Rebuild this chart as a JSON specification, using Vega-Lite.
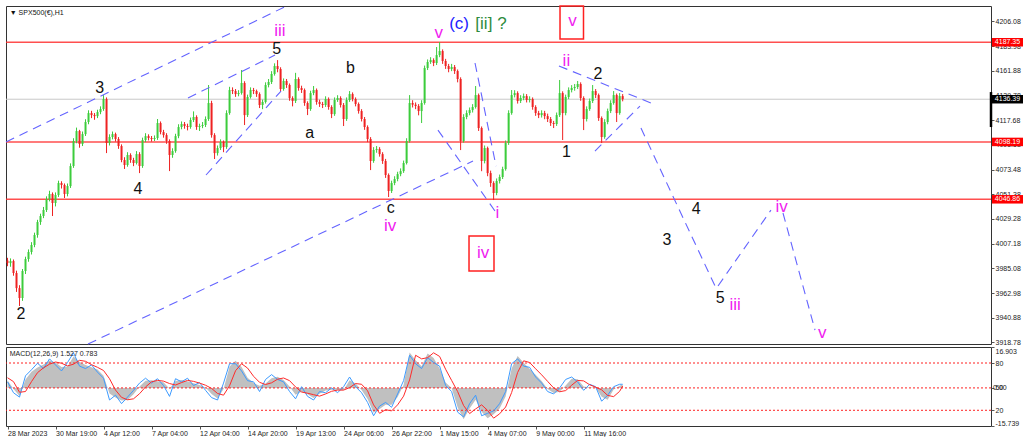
{
"$schema":"https://vega.github.io/schema/vega-lite/v6.json",
"background":"white",
"padding":{"left":3,"top":3,"right":0,"bottom":0},
"bounds":"flush",
"spacing":3,
"config":{"view":{"stroke":"#333333","strokeWidth":1},"axis":{"labelFont":"Liberation Sans","labelFontSize":7,"labelColor":"#222222","tickColor":"#555555","tickSize":3,"domain":false,"grid":false,"labelOverlap":false}},
"datasets":{
"candles":[
{"b":0,"o":3992.0,"h":3994.5,"l":3987.0,"c":3989.8},{"b":4,"o":3989.8,"h":3994.0,"l":3986.5,"c":3991.6},{"b":8,"o":3991.6,"h":3993.0,"l":3978.5,"c":3980.9},{"b":12,"o":3980.9,"h":3983.0,"l":3964.0,"c":3967.4},{"b":16,"o":3967.4,"h":3970.0,"l":3951.4,"c":3958.5},{"b":20,"o":3958.5,"h":3984.5,"l":3956.0,"c":3982.7},{"b":24,"o":3982.7,"h":3995.5,"l":3980.0,"c":3993.4},{"b":28,"o":3993.4,"h":4002.0,"l":3991.0,"c":3999.7},{"b":32,"o":3999.7,"h":4008.5,"l":3997.5,"c":4006.0},{"b":36,"o":4006.0,"h":4017.0,"l":4004.0,"c":4014.9},
{"b":40,"o":4014.9,"h":4028.5,"l":4012.5,"c":4026.5},{"b":44,"o":4026.5,"h":4034.0,"l":4024.0,"c":4031.9},{"b":48,"o":4031.9,"h":4040.0,"l":4030.0,"c":4037.3},{"b":52,"o":4037.3,"h":4049.5,"l":4035.5,"c":4047.1},{"b":56,"o":4047.1,"h":4054.5,"l":4045.0,"c":4051.6},{"b":60,"o":4051.6,"h":4053.0,"l":4031.9,"c":4043.5},{"b":64,"o":4043.5,"h":4053.0,"l":4040.5,"c":4050.7},{"b":68,"o":4050.7,"h":4063.5,"l":4049.0,"c":4061.4},{"b":72,"o":4061.4,"h":4063.0,"l":4056.5,"c":4059.6},{"b":76,"o":4059.6,"h":4061.0,"l":4048.0,"c":4051.6},
{"b":80,"o":4051.6,"h":4061.0,"l":4049.5,"c":4058.7},{"b":84,"o":4058.7,"h":4079.0,"l":4057.0,"c":4076.6},{"b":88,"o":4076.6,"h":4101.5,"l":4075.0,"c":4099.0},{"b":92,"o":4099.0,"h":4111.0,"l":4097.0,"c":4107.9},{"b":96,"o":4107.9,"h":4109.0,"l":4093.0,"c":4096.3},{"b":100,"o":4096.3,"h":4107.5,"l":4094.5,"c":4105.2},{"b":104,"o":4105.2,"h":4118.5,"l":4103.5,"c":4116.0},{"b":108,"o":4116.0,"h":4126.5,"l":4114.0,"c":4124.0},{"b":112,"o":4124.0,"h":4126.0,"l":4119.5,"c":4122.2},{"b":116,"o":4122.2,"h":4124.0,"l":4118.0,"c":4121.3},
{"b":120,"o":4121.3,"h":4127.0,"l":4119.5,"c":4124.9},{"b":124,"o":4124.9,"h":4130.0,"l":4123.0,"c":4127.6},{"b":128,"o":4127.6,"h":4140.1,"l":4126.0,"c":4136.5},{"b":132,"o":4136.5,"h":4138.0,"l":4088.2,"c":4097.2},{"b":136,"o":4097.2,"h":4105.0,"l":4095.0,"c":4102.6},{"b":140,"o":4102.6,"h":4107.5,"l":4100.5,"c":4105.2},{"b":144,"o":4105.2,"h":4106.5,"l":4098.5,"c":4100.8},{"b":148,"o":4100.8,"h":4102.5,"l":4092.0,"c":4094.5},{"b":152,"o":4094.5,"h":4096.0,"l":4080.0,"c":4082.0},{"b":156,"o":4082.0,"h":4084.5,"l":4074.0,"c":4077.5},
{"b":160,"o":4077.5,"h":4089.0,"l":4076.0,"c":4086.5},{"b":164,"o":4086.5,"h":4088.0,"l":4079.5,"c":4082.0},{"b":168,"o":4082.0,"h":4084.0,"l":4076.5,"c":4079.3},{"b":172,"o":4079.3,"h":4090.0,"l":4078.0,"c":4087.3},{"b":176,"o":4087.3,"h":4089.0,"l":4070.3,"c":4076.6},{"b":180,"o":4076.6,"h":4102.0,"l":4075.0,"c":4099.9},{"b":184,"o":4099.9,"h":4106.0,"l":4098.0,"c":4103.4},{"b":188,"o":4103.4,"h":4105.0,"l":4099.5,"c":4101.7},{"b":192,"o":4101.7,"h":4103.5,"l":4098.5,"c":4100.8},{"b":196,"o":4100.8,"h":4104.0,"l":4099.0,"c":4101.7},
{"b":200,"o":4101.7,"h":4118.7,"l":4100.0,"c":4115.1},{"b":204,"o":4115.1,"h":4116.5,"l":4105.0,"c":4107.0},{"b":208,"o":4107.0,"h":4109.0,"l":4102.0,"c":4104.3},{"b":212,"o":4104.3,"h":4106.0,"l":4096.5,"c":4099.0},{"b":216,"o":4099.0,"h":4100.5,"l":4072.1,"c":4086.5},{"b":220,"o":4086.5,"h":4092.5,"l":4084.0,"c":4090.0},{"b":224,"o":4090.0,"h":4105.5,"l":4088.5,"c":4103.4},{"b":228,"o":4103.4,"h":4114.0,"l":4101.5,"c":4111.5},{"b":232,"o":4111.5,"h":4116.5,"l":4109.5,"c":4114.2},{"b":236,"o":4114.2,"h":4116.0,"l":4110.0,"c":4112.4},
{"b":240,"o":4112.4,"h":4114.5,"l":4108.5,"c":4111.5},{"b":244,"o":4111.5,"h":4120.0,"l":4110.0,"c":4117.8},{"b":248,"o":4117.8,"h":4125.5,"l":4116.0,"c":4120.5},{"b":252,"o":4120.5,"h":4122.0,"l":4109.0,"c":4111.5},{"b":256,"o":4111.5,"h":4114.5,"l":4108.0,"c":4112.4},{"b":260,"o":4112.4,"h":4116.0,"l":4110.5,"c":4113.3},{"b":264,"o":4113.3,"h":4121.0,"l":4111.5,"c":4118.7},{"b":268,"o":4118.7,"h":4149.1,"l":4117.0,"c":4133.0},{"b":272,"o":4133.0,"h":4135.0,"l":4102.0,"c":4104.3},{"b":276,"o":4104.3,"h":4106.0,"l":4082.9,"c":4088.2},
{"b":280,"o":4088.2,"h":4095.0,"l":4086.0,"c":4092.7},{"b":284,"o":4092.7,"h":4100.5,"l":4091.0,"c":4098.1},{"b":288,"o":4098.1,"h":4099.5,"l":4089.0,"c":4093.6},{"b":292,"o":4093.6,"h":4126.5,"l":4092.0,"c":4124.0},{"b":296,"o":4124.0,"h":4147.5,"l":4122.5,"c":4144.6},{"b":300,"o":4144.6,"h":4147.0,"l":4141.0,"c":4143.7},{"b":304,"o":4143.7,"h":4145.5,"l":4138.5,"c":4141.0},{"b":308,"o":4141.0,"h":4144.5,"l":4139.0,"c":4141.9},{"b":312,"o":4141.9,"h":4162.5,"l":4140.5,"c":4150.9},{"b":316,"o":4150.9,"h":4152.5,"l":4113.3,"c":4122.2},
{"b":320,"o":4122.2,"h":4140.5,"l":4120.5,"c":4138.4},{"b":324,"o":4138.4,"h":4147.0,"l":4137.0,"c":4144.6},{"b":328,"o":4144.6,"h":4146.5,"l":4141.0,"c":4143.7},{"b":332,"o":4143.7,"h":4145.0,"l":4138.5,"c":4141.0},{"b":336,"o":4141.0,"h":4142.5,"l":4128.5,"c":4131.2},{"b":340,"o":4131.2,"h":4136.0,"l":4127.5,"c":4133.9},{"b":344,"o":4133.9,"h":4151.5,"l":4132.5,"c":4149.1},{"b":348,"o":4149.1,"h":4154.5,"l":4147.0,"c":4151.8},{"b":352,"o":4151.8,"h":4161.5,"l":4150.0,"c":4159.0},{"b":356,"o":4159.0,"h":4168.5,"l":4157.5,"c":4166.1},
{"b":360,"o":4166.1,"h":4171.4,"l":4160.5,"c":4163.4},{"b":364,"o":4163.4,"h":4165.0,"l":4143.0,"c":4145.5},{"b":368,"o":4145.5,"h":4155.0,"l":4144.0,"c":4152.7},{"b":372,"o":4152.7,"h":4154.5,"l":4146.5,"c":4149.1},{"b":376,"o":4149.1,"h":4150.5,"l":4135.0,"c":4137.4},{"b":380,"o":4137.4,"h":4139.0,"l":4130.0,"c":4134.8},{"b":384,"o":4134.8,"h":4160.0,"l":4133.0,"c":4154.5},{"b":388,"o":4154.5,"h":4156.0,"l":4144.0,"c":4146.4},{"b":392,"o":4146.4,"h":4148.5,"l":4142.0,"c":4144.6},{"b":396,"o":4144.6,"h":4146.0,"l":4130.5,"c":4133.0},
{"b":400,"o":4133.0,"h":4134.5,"l":4122.2,"c":4127.6},{"b":404,"o":4127.6,"h":4144.0,"l":4126.0,"c":4141.9},{"b":408,"o":4141.9,"h":4148.2,"l":4140.0,"c":4144.6},{"b":412,"o":4144.6,"h":4146.0,"l":4131.5,"c":4133.9},{"b":416,"o":4133.9,"h":4136.0,"l":4129.5,"c":4132.1},{"b":420,"o":4132.1,"h":4134.0,"l":4128.5,"c":4131.2},{"b":424,"o":4131.2,"h":4139.0,"l":4129.5,"c":4136.6},{"b":428,"o":4136.6,"h":4138.0,"l":4127.0,"c":4129.4},{"b":432,"o":4129.4,"h":4131.0,"l":4119.5,"c":4123.1},{"b":436,"o":4123.1,"h":4138.0,"l":4121.5,"c":4135.7},
{"b":440,"o":4135.7,"h":4140.0,"l":4134.0,"c":4137.5},{"b":444,"o":4137.5,"h":4139.0,"l":4129.0,"c":4131.2},{"b":448,"o":4131.2,"h":4133.0,"l":4112.4,"c":4118.7},{"b":452,"o":4118.7,"h":4138.0,"l":4117.0,"c":4135.7},{"b":456,"o":4135.7,"h":4143.7,"l":4134.0,"c":4141.0},{"b":460,"o":4141.0,"h":4142.5,"l":4134.5,"c":4136.6},{"b":464,"o":4136.6,"h":4138.0,"l":4130.0,"c":4132.1},{"b":468,"o":4132.1,"h":4133.5,"l":4123.5,"c":4125.8},{"b":472,"o":4125.8,"h":4127.5,"l":4116.5,"c":4118.7},{"b":476,"o":4118.7,"h":4120.5,"l":4109.0,"c":4111.5},
{"b":480,"o":4111.5,"h":4113.0,"l":4098.0,"c":4100.8},{"b":484,"o":4100.8,"h":4102.5,"l":4073.0,"c":4081.1},{"b":488,"o":4081.1,"h":4093.5,"l":4079.5,"c":4091.0},{"b":492,"o":4091.0,"h":4094.5,"l":4088.5,"c":4091.8},{"b":496,"o":4091.8,"h":4093.5,"l":4085.0,"c":4087.3},{"b":500,"o":4087.3,"h":4089.0,"l":4078.5,"c":4081.1},{"b":504,"o":4081.1,"h":4083.0,"l":4066.0,"c":4068.6},{"b":508,"o":4068.6,"h":4070.0,"l":4048.9,"c":4054.3},{"b":512,"o":4054.3,"h":4063.5,"l":4052.5,"c":4061.4},{"b":516,"o":4061.4,"h":4067.5,"l":4059.5,"c":4065.0},
{"b":520,"o":4065.0,"h":4071.5,"l":4063.0,"c":4069.4},{"b":524,"o":4069.4,"h":4074.5,"l":4067.5,"c":4072.1},{"b":528,"o":4072.1,"h":4081.5,"l":4070.5,"c":4079.3},{"b":532,"o":4079.3,"h":4101.5,"l":4078.0,"c":4099.0},{"b":536,"o":4099.0,"h":4140.1,"l":4097.5,"c":4133.0},{"b":540,"o":4133.0,"h":4135.5,"l":4129.0,"c":4131.5},{"b":544,"o":4131.5,"h":4133.5,"l":4127.5,"c":4130.3},{"b":548,"o":4130.3,"h":4132.0,"l":4122.0,"c":4125.8},{"b":552,"o":4125.8,"h":4135.5,"l":4115.1,"c":4133.0},{"b":556,"o":4133.0,"h":4166.5,"l":4131.5,"c":4164.3},
{"b":560,"o":4164.3,"h":4172.0,"l":4162.5,"c":4169.7},{"b":564,"o":4169.7,"h":4174.0,"l":4168.0,"c":4171.4},{"b":568,"o":4171.4,"h":4173.0,"l":4166.0,"c":4168.8},{"b":572,"o":4168.8,"h":4183.1,"l":4167.0,"c":4175.9},{"b":576,"o":4175.9,"h":4187.5,"l":4174.0,"c":4179.5},{"b":580,"o":4179.5,"h":4181.0,"l":4168.0,"c":4170.6},{"b":584,"o":4170.6,"h":4172.5,"l":4163.5,"c":4166.1},{"b":588,"o":4166.1,"h":4168.0,"l":4160.5,"c":4163.4},{"b":592,"o":4163.4,"h":4168.0,"l":4161.5,"c":4165.2},{"b":596,"o":4165.2,"h":4167.0,"l":4159.0,"c":4161.6},
{"b":600,"o":4161.6,"h":4163.0,"l":4151.5,"c":4154.5},{"b":604,"o":4154.5,"h":4156.0,"l":4090.9,"c":4099.0},{"b":608,"o":4099.0,"h":4123.0,"l":4097.5,"c":4120.5},{"b":612,"o":4120.5,"h":4126.5,"l":4118.5,"c":4124.0},{"b":616,"o":4124.0,"h":4129.0,"l":4122.0,"c":4126.7},{"b":620,"o":4126.7,"h":4132.0,"l":4124.5,"c":4129.4},{"b":624,"o":4129.4,"h":4148.2,"l":4128.0,"c":4140.1},{"b":628,"o":4140.1,"h":4141.5,"l":4108.0,"c":4110.6},{"b":632,"o":4110.6,"h":4112.0,"l":4072.0,"c":4081.1},{"b":636,"o":4081.1,"h":4095.0,"l":4079.0,"c":4092.7},
{"b":640,"o":4092.7,"h":4094.0,"l":4067.5,"c":4070.3},{"b":644,"o":4070.3,"h":4072.5,"l":4058.0,"c":4061.4},{"b":648,"o":4061.4,"h":4063.0,"l":4046.2,"c":4052.5},{"b":652,"o":4052.5,"h":4065.5,"l":4050.5,"c":4063.2},{"b":656,"o":4063.2,"h":4069.0,"l":4061.0,"c":4066.8},{"b":660,"o":4066.8,"h":4076.0,"l":4065.0,"c":4073.9},{"b":664,"o":4073.9,"h":4099.5,"l":4072.5,"c":4097.2},{"b":668,"o":4097.2,"h":4126.5,"l":4095.5,"c":4124.0},{"b":672,"o":4124.0,"h":4144.6,"l":4122.5,"c":4140.1},{"b":676,"o":4140.1,"h":4144.5,"l":4138.0,"c":4141.9},
{"b":680,"o":4141.9,"h":4143.5,"l":4132.5,"c":4134.8},{"b":684,"o":4134.8,"h":4140.0,"l":4133.0,"c":4137.5},{"b":688,"o":4137.5,"h":4141.5,"l":4135.5,"c":4139.2},{"b":692,"o":4139.2,"h":4141.0,"l":4133.5,"c":4135.7},{"b":696,"o":4135.7,"h":4139.0,"l":4133.5,"c":4136.6},{"b":700,"o":4136.6,"h":4138.0,"l":4127.0,"c":4129.4},{"b":704,"o":4129.4,"h":4131.0,"l":4121.5,"c":4124.0},{"b":708,"o":4124.0,"h":4126.0,"l":4119.5,"c":4122.2},{"b":712,"o":4122.2,"h":4126.5,"l":4120.0,"c":4124.0},{"b":716,"o":4124.0,"h":4126.0,"l":4118.5,"c":4121.3},
{"b":720,"o":4121.3,"h":4123.5,"l":4116.0,"c":4118.7},{"b":724,"o":4118.7,"h":4120.5,"l":4112.5,"c":4115.1},{"b":728,"o":4115.1,"h":4117.0,"l":4110.6,"c":4114.2},{"b":732,"o":4114.2,"h":4124.5,"l":4112.5,"c":4122.2},{"b":736,"o":4122.2,"h":4153.6,"l":4120.5,"c":4141.9},{"b":740,"o":4141.9,"h":4143.5,"l":4099.9,"c":4124.0},{"b":744,"o":4124.0,"h":4140.5,"l":4122.0,"c":4138.4},{"b":748,"o":4138.4,"h":4147.0,"l":4136.5,"c":4144.6},{"b":752,"o":4144.6,"h":4149.0,"l":4142.5,"c":4146.4},{"b":756,"o":4146.4,"h":4150.0,"l":4144.0,"c":4147.3},
{"b":760,"o":4147.3,"h":4152.7,"l":4145.5,"c":4150.0},{"b":764,"o":4150.0,"h":4151.5,"l":4135.0,"c":4137.5},{"b":768,"o":4137.5,"h":4139.0,"l":4108.8,"c":4118.7},{"b":772,"o":4118.7,"h":4130.0,"l":4116.5,"c":4127.6},{"b":776,"o":4127.6,"h":4137.0,"l":4126.0,"c":4134.8},{"b":780,"o":4134.8,"h":4149.1,"l":4133.0,"c":4143.7},{"b":784,"o":4143.7,"h":4145.5,"l":4137.5,"c":4140.1},{"b":788,"o":4140.1,"h":4141.5,"l":4117.0,"c":4119.6},{"b":792,"o":4119.6,"h":4121.0,"l":4097.2,"c":4102.6},{"b":796,"o":4102.6,"h":4118.5,"l":4101.0,"c":4116.0},
{"b":800,"o":4116.0,"h":4128.0,"l":4114.0,"c":4125.8},{"b":804,"o":4125.8,"h":4135.5,"l":4124.0,"c":4133.0},{"b":808,"o":4133.0,"h":4143.7,"l":4131.5,"c":4140.1},{"b":812,"o":4140.1,"h":4141.5,"l":4116.0,"c":4124.0},{"b":816,"o":4124.0,"h":4141.9,"l":4122.5,"c":4139.2},{"b":820,"o":4139.2,"h":4141.0,"l":4134.5,"c":4136.4}
],
"macd":[
{"b":0,"hist":3.2,"sig":4.2,"fast":2.5},{"b":8,"hist":-0.5,"sig":2.6,"fast":-2.0},{"b":16,"hist":-3.3,"sig":-1.8,"fast":-3.8},{"b":24,"hist":3.5,"sig":-1.5,"fast":5.0},{"b":32,"hist":6.7,"sig":2.6,"fast":7.5},{"b":40,"hist":8.4,"sig":6.3,"fast":10.2},{"b":48,"hist":9.7,"sig":8.3,"fast":8.0},{"b":56,"hist":11.3,"sig":9.8,"fast":12.0},{"b":64,"hist":10.5,"sig":10.7,"fast":9.5},{"b":72,"hist":8.6,"sig":10.2,"fast":7.0},
{"b":80,"hist":8.8,"sig":9.1,"fast":10.5},{"b":88,"hist":13.0,"sig":9.8,"fast":14.5},{"b":96,"hist":10.8,"sig":11.4,"fast":9.0},{"b":104,"hist":9.5,"sig":11.0,"fast":8.0},{"b":112,"hist":8.5,"sig":9.6,"fast":9.5},{"b":120,"hist":7.6,"sig":8.5,"fast":6.5},{"b":128,"hist":5.0,"sig":7.2,"fast":4.0},{"b":136,"hist":-2.3,"sig":3.8,"fast":-5.0},{"b":144,"hist":-4.0,"sig":-0.9,"fast":-3.0},{"b":152,"hist":-5.2,"sig":-3.9,"fast":-6.5},
{"b":160,"hist":-5.0,"sig":-4.9,"fast":-3.8},{"b":168,"hist":-2.6,"sig":-4.5,"fast":-1.0},{"b":176,"hist":0.6,"sig":-2.4,"fast":2.0},{"b":184,"hist":3.0,"sig":0.4,"fast":4.0},{"b":192,"hist":3.2,"sig":2.5,"fast":2.0},{"b":200,"hist":2.8,"sig":3.1,"fast":3.8},{"b":208,"hist":2.3,"sig":2.8,"fast":1.0},{"b":216,"hist":-0.3,"sig":1.8,"fast":-3.5},{"b":224,"hist":2.9,"sig":1.2,"fast":3.8},{"b":232,"hist":3.3,"sig":2.2,"fast":2.5},
{"b":240,"hist":2.8,"sig":3.1,"fast":4.0},{"b":248,"hist":1.9,"sig":2.7,"fast":1.0},{"b":256,"hist":1.2,"sig":2.0,"fast":2.2},{"b":264,"hist":0.2,"sig":1.1,"fast":-1.0},{"b":272,"hist":-2.5,"sig":-0.2,"fast":-4.0},{"b":280,"hist":-4.4,"sig":-2.3,"fast":-5.0},{"b":288,"hist":-0.5,"sig":-3.0,"fast":2.0},{"b":296,"hist":8.8,"sig":0.9,"fast":10.0},{"b":304,"hist":11.2,"sig":7.1,"fast":10.0},{"b":312,"hist":8.6,"sig":10.0,"fast":7.0},
{"b":320,"hist":4.2,"sig":8.2,"fast":3.0},{"b":328,"hist":2.0,"sig":4.8,"fast":2.5},{"b":336,"hist":0.9,"sig":2.3,"fast":-1.5},{"b":344,"hist":1.8,"sig":1.4,"fast":3.5},{"b":352,"hist":4.0,"sig":2.1,"fast":5.5},{"b":360,"hist":4.6,"sig":3.6,"fast":3.5},{"b":368,"hist":3.3,"sig":4.1,"fast":2.5},{"b":376,"hist":0.6,"sig":3.0,"fast":-1.5},{"b":384,"hist":-2.8,"sig":0.4,"fast":-4.5},{"b":392,"hist":-1.6,"sig":-1.7,"fast":0.5},
{"b":400,"hist":-2.6,"sig":-2.2,"fast":-3.5},{"b":408,"hist":-4.2,"sig":-2.8,"fast":-5.0},{"b":416,"hist":-2.4,"sig":-3.4,"fast":-1.5},{"b":424,"hist":-1.1,"sig":-2.5,"fast":-2.0},{"b":432,"hist":-0.8,"sig":-1.4,"fast":0.0},{"b":440,"hist":-0.9,"sig":-0.9,"fast":-2.0},{"b":448,"hist":-1.0,"sig":-0.9,"fast":0.5},{"b":456,"hist":3.2,"sig":0.1,"fast":4.5},{"b":464,"hist":1.8,"sig":1.8,"fast":0.5},{"b":472,"hist":-0.9,"sig":1.5,"fast":-2.0},
{"b":480,"hist":-4.6,"sig":-1.2,"fast":-6.0},{"b":488,"hist":-10.3,"sig":-7.0,"fast":-11.5},{"b":496,"hist":-8.7,"sig":-10.5,"fast":-7.5},{"b":504,"hist":-7.0,"sig":-9.0,"fast":-6.0},{"b":512,"hist":-7.0,"sig":-9.5,"fast":-8.0},{"b":520,"hist":-3.8,"sig":-7.0,"fast":-2.5},{"b":528,"hist":1.2,"sig":-3.4,"fast":3.0},{"b":536,"hist":14.6,"sig":3.3,"fast":13.5},{"b":544,"hist":11.4,"sig":13.5,"fast":10.0},{"b":552,"hist":9.0,"sig":12.0,"fast":8.0},
{"b":560,"hist":14.2,"sig":12.5,"fast":12.5},{"b":568,"hist":12.4,"sig":14.5,"fast":10.5},{"b":576,"hist":8.0,"sig":13.0,"fast":9.0},{"b":584,"hist":2.2,"sig":7.7,"fast":1.0},{"b":592,"hist":0.0,"sig":3.1,"fast":-1.5},{"b":600,"hist":-8.0,"sig":-1.5,"fast":-10.0},{"b":608,"hist":-13.0,"sig":-7.3,"fast":-12.0},{"b":616,"hist":-8.5,"sig":-10.6,"fast":-6.5},{"b":624,"hist":-4.9,"sig":-8.7,"fast":-3.0},{"b":632,"hist":-9.8,"sig":-7.0,"fast":-11.5},
{"b":640,"hist":-12.5,"sig":-9.3,"fast":-10.5},{"b":648,"hist":-10.9,"sig":-12.5,"fast":-9.5},{"b":656,"hist":-8.5,"sig":-10.7,"fast":-6.5},{"b":664,"hist":-3.5,"sig":-7.9,"fast":-1.5},{"b":672,"hist":8.0,"sig":-1.9,"fast":10.0},{"b":680,"hist":13.2,"sig":6.4,"fast":12.0},{"b":688,"hist":10.4,"sig":11.2,"fast":9.0},{"b":696,"hist":7.8,"sig":10.5,"fast":8.5},{"b":704,"hist":5.4,"sig":7.9,"fast":4.5},{"b":712,"hist":2.9,"sig":5.4,"fast":2.0},
{"b":720,"hist":-0.4,"sig":2.7,"fast":-1.5},{"b":728,"hist":-2.1,"sig":0.0,"fast":-2.5},{"b":736,"hist":-1.6,"sig":-1.6,"fast":0.0},{"b":744,"hist":1.0,"sig":-1.1,"fast":3.5},{"b":752,"hist":3.8,"sig":1.1,"fast":4.5},{"b":760,"hist":3.6,"sig":3.1,"fast":2.5},{"b":768,"hist":0.6,"sig":2.9,"fast":-1.0},{"b":776,"hist":0.2,"sig":1.3,"fast":1.5},{"b":784,"hist":0.1,"sig":0.3,"fast":0.5},{"b":792,"hist":-3.7,"sig":-0.8,"fast":-5.5},
{"b":800,"hist":-4.9,"sig":-3.1,"fast":-3.0},{"b":808,"hist":-0.7,"sig":-3.6,"fast":0.5},{"b":816,"hist":0.9,"sig":-1.4,"fast":1.5},{"b":820,"hist":1.527,"sig":0.783,"fast":1.5}
],
"lines":[
{"seg":1,"b":-2,"p":4098.1},{"seg":1,"b":371,"p":4219.5},
{"seg":2,"b":107.3,"p":3917.4},{"seg":2,"b":620.5,"p":4081.1},
{"seg":3,"b":240.6,"p":4137.5},{"seg":3,"b":356.6,"p":4175.9},
{"seg":4,"b":264.6,"p":4068.6},{"seg":4,"b":364.6,"p":4143.7},
{"seg":5,"b":573.8,"p":4108.8},{"seg":5,"b":649.8,"p":4036.4},
{"seg":6,"b":623.2,"p":4168.8},{"seg":6,"b":651.2,"p":4076.6},
{"seg":7,"b":735.1,"p":4166.1},{"seg":7,"b":857.8,"p":4133.0},
{"seg":8,"b":783.1,"p":4090.0},{"seg":8,"b":843.1,"p":4130.3},
{"seg":9,"b":844.4,"p":4110.6},{"seg":9,"b":943.1,"p":3969.3},
{"seg":10,"b":947.1,"p":3969.3},{"seg":10,"b":1017.7,"p":4037.2},
{"seg":11,"b":1033.7,"p":4034.6},{"seg":11,"b":1076.4,"p":3929.9}
],
"labels":[
{"t":"2","b":18,"p":3944,"g":"k"},{"t":"3","b":123,"p":4146,"g":"k"},{"t":"4","b":174,"p":4056,"g":"k"},{"t":"5","b":359,"p":4181,"g":"k"},{"t":"a","b":403,"p":4106,"g":"k"},{"t":"b","b":457,"p":4164,"g":"k"},{"t":"c","b":511,"p":4039,"g":"k"},{"t":"1","b":745,"p":4089,"g":"k"},{"t":"2","b":787,"p":4159,"g":"k"},{"t":"3","b":879,"p":4010,"g":"k"},{"t":"4","b":918,"p":4038,"g":"k"},{"t":"5","b":950,"p":3959,"g":"k"},
{"t":"iii","b":363,"p":4197,"g":"m"},{"t":"v","b":575,"p":4196,"g":"m"},{"t":"iv","b":510,"p":4023,"g":"m"},{"t":"ii","b":745,"p":4171,"g":"m"},{"t":"i","b":653,"p":4035,"g":"m"},{"t":"iv","b":634,"p":3999,"g":"m"},{"t":"v","b":753,"p":4206,"g":"m"},{"t":"iii","b":970,"p":3952,"g":"m"},{"t":"iv","b":1032,"p":4040,"g":"m"},{"t":"v","b":1086,"p":3927,"g":"m"},
{"t":"(c)","b":602,"p":4204,"g":"bl"},{"t":"[ii]","b":635,"p":4204,"g":"gr"},{"t":"?","b":659,"p":4204,"g":"gr"}
],
"boxes":[{"b1":736.5,"b2":767.8,"p1":4219.8,"p2":4190.2},{"b1":615.2,"b2":648.5,"p1":4014.0,"p2":3982.7}],
"tags":[{"p":4187.35,"t":"4187.35","k":"r"},{"p":4098.19,"t":"4098.19","k":"r"},{"p":4046.86,"t":"4046.86","k":"r"},{"p":4136.39,"t":"4136.39","k":"g"}],
"levels":[{"v":10.29},{"v":0},{"v":-9.25}]
},
"vconcat":[
{"width":985,"height":338,
"layer":[
{"data":{"name":"tags"},"transform":[{"filter":"datum.k=='r'"}],"mark":{"type":"rule","color":"#ff3030","strokeWidth":1.6,"opacity":0.85},
"encoding":{"y":{"field":"p","type":"quantitative","scale":{"domain":[3917.4,4219.8],"nice":false,"zero":false},"axis":{"orient":"right","title":null,"values":[3918.78,3940.88,3962.98,3985.08,4007.18,4029.28,4051.38,4073.48,4095.58,4117.68,4139.78,4161.88,4183.98,4206.08],"tickCount":40,"format":".2f","labelPadding":1,"labelOverlap":false}}}},
{"data":{"name":"tags"},"transform":[{"filter":"datum.k=='g'"}],"mark":{"type":"rule","color":"#c8c8c8","strokeWidth":1},
"encoding":{"y":{"field":"p","type":"quantitative","title":null}}},
{"data":{"name":"candles"},"mark":{"type":"rule","strokeWidth":1},
"encoding":{"x":{"field":"b","type":"quantitative","scale":{"domain":[-2,1311],"nice":false,"zero":false},"axis":null},"y":{"field":"l","type":"quantitative","title":null},"y2":{"field":"h"},
"color":{"condition":{"test":"datum.c>=datum.o","value":"#3ccc3c"},"value":"#ee2222"}}},
{"data":{"name":"candles"},"mark":{"type":"rule","strokeWidth":2},
"encoding":{"x":{"field":"b","type":"quantitative","axis":null},"y":{"field":"o","type":"quantitative","title":null},"y2":{"field":"c"},
"color":{"condition":{"test":"datum.c>=datum.o","value":"#3ccc3c"},"value":"#ee2222"}}},
{"data":{"name":"lines"},"mark":{"type":"line","color":"#6464ff","strokeDash":[9,6],"strokeWidth":1.1},
"encoding":{"x":{"field":"b","type":"quantitative","axis":null},"y":{"field":"p","type":"quantitative","title":null},"detail":{"field":"seg"}}},
{"data":{"name":"boxes"},"mark":{"type":"rect","fill":"transparent","stroke":"#ff2020","strokeWidth":1.5},
"encoding":{"x":{"field":"b1","type":"quantitative","axis":null},"x2":{"field":"b2"},"y":{"field":"p1","type":"quantitative","title":null},"y2":{"field":"p2"}}},
{"data":{"name":"labels"},"transform":[{"filter":"datum.g=='k'"}],"mark":{"type":"text","font":"Liberation Sans","fontSize":16,"color":"#111111","align":"center","baseline":"middle"},
"encoding":{"x":{"field":"b","type":"quantitative","axis":null},"y":{"field":"p","type":"quantitative","title":null},"text":{"field":"t"}}},
{"data":{"name":"labels"},"transform":[{"filter":"datum.g=='m'"}],"mark":{"type":"text","font":"Liberation Sans","fontSize":17,"color":"#f020f0","align":"center","baseline":"middle"},
"encoding":{"x":{"field":"b","type":"quantitative","axis":null},"y":{"field":"p","type":"quantitative","title":null},"text":{"field":"t"}}},
{"data":{"name":"labels"},"transform":[{"filter":"datum.g=='bl'"}],"mark":{"type":"text","font":"Liberation Sans","fontSize":17,"color":"#2020ff","align":"center","baseline":"middle"},
"encoding":{"x":{"field":"b","type":"quantitative","axis":null},"y":{"field":"p","type":"quantitative","title":null},"text":{"field":"t"}}},
{"data":{"name":"labels"},"transform":[{"filter":"datum.g=='gr'"}],"mark":{"type":"text","font":"Liberation Sans","fontSize":17,"color":"#2e8b3e","align":"center","baseline":"middle"},
"encoding":{"x":{"field":"b","type":"quantitative","axis":null},"y":{"field":"p","type":"quantitative","title":null},"text":{"field":"t"}}},
{"data":{"name":"tags"},"mark":{"type":"tick","orient":"horizontal","size":31,"thickness":8.5,"opacity":1},
"encoding":{"x":{"datum":1333,"type":"quantitative","axis":null},"y":{"field":"p","type":"quantitative","title":null},"color":{"condition":{"test":"datum.k=='r'","value":"#ff0000"},"value":"#000000"}}},
{"data":{"name":"tags"},"mark":{"type":"text","font":"Liberation Sans","fontSize":7,"color":"white","align":"center","baseline":"middle"},
"encoding":{"x":{"datum":1333,"type":"quantitative","axis":null},"y":{"field":"p","type":"quantitative","title":null},"text":{"field":"t"}}},
{"data":{"values":[{"p1":4142.8,"p2":4111.5}]},"mark":{"type":"rule","color":"#000000","strokeWidth":2.5},
"encoding":{"x":{"datum":1311,"type":"quantitative","axis":null},"y":{"field":"p1","type":"quantitative","title":null},"y2":{"field":"p2"}}},
{"data":{"values":[{"t":"▼ SPX500(€),H1","b":3,"p":4213.5}]},"mark":{"type":"text","font":"Liberation Sans","fontSize":7,"color":"#111111","align":"left","baseline":"middle"},
"encoding":{"x":{"field":"b","type":"quantitative","axis":null},"y":{"field":"p","type":"quantitative","title":null},"text":{"field":"t"}}}
]},
{"width":985,"height":79,
"layer":[
{"data":{"name":"macd"},"mark":{"type":"area","color":"#c0c0c0","opacity":1},
"encoding":{"x":{"field":"b","type":"quantitative","scale":{"domain":[-2,1311],"nice":false,"zero":false},
"axis":{"orient":"bottom","title":null,"values":[0,64,128,192,256,320,384,448,512,576,640,704,768],"tickCount":40,"labelExpr":"['28 Mar 2023','30 Mar 19:00','4 Apr 12:00','7 Apr 04:00','12 Apr 04:00','14 Apr 20:00','19 Apr 13:00','24 Apr 06:00','26 Apr 22:00','1 May 15:00','4 May 07:00','9 May 00:00','11 May 16:00'][round(datum.value/64)]","labelAlign":"left","labelFlush":false,"labelPadding":0,"labelOverlap":false}},
"y":{"field":"hist","type":"quantitative","scale":{"domain":[-15.739,16.903],"nice":false,"zero":false},
"axis":{"orient":"right","title":null,"values":[16.903,10.29,0,-9.25,-15.739],"tickCount":20,"labelExpr":"datum.value > 16 ? '16.903' : datum.value > 10 ? '80' : datum.value > -1 ? '50' : datum.value > -10 ? '20' : '-15.739'","labelFlush":true,"labelPadding":1,"labelOverlap":false}},
"y2":{"datum":0}}},
{"data":{"name":"levels"},"mark":{"type":"rule","color":"#ff2020","strokeDash":[2,2],"strokeWidth":1},
"encoding":{"y":{"field":"v","type":"quantitative","title":null}}},
{"data":{"name":"macd"},"mark":{"type":"line","color":"#3d9bff","strokeWidth":1},
"encoding":{"x":{"field":"b","type":"quantitative","title":null},"y":{"field":"fast","type":"quantitative","title":null}}},
{"data":{"name":"macd"},"mark":{"type":"line","color":"#ff2a2a","strokeWidth":1},
"encoding":{"x":{"field":"b","type":"quantitative","title":null},"y":{"field":"sig","type":"quantitative","title":null}}},
{"data":{"values":[{"t":"MACD(12,26,9) 1.527 0.783","b":3,"v":14.0}]},"mark":{"type":"text","font":"Liberation Sans","fontSize":7,"color":"#222222","align":"left","baseline":"middle"},
"encoding":{"x":{"field":"b","type":"quantitative","title":null},"y":{"field":"v","type":"quantitative","title":null},"text":{"field":"t"}}},
{"data":{"values":[{"t":"0.00","b":1313.7,"v":0}]},"mark":{"type":"text","font":"Liberation Sans","fontSize":7,"color":"#222222","align":"left","baseline":"middle"},
"encoding":{"x":{"field":"b","type":"quantitative","title":null},"y":{"field":"v","type":"quantitative","title":null},"text":{"field":"t"}}}
]}
]
}
